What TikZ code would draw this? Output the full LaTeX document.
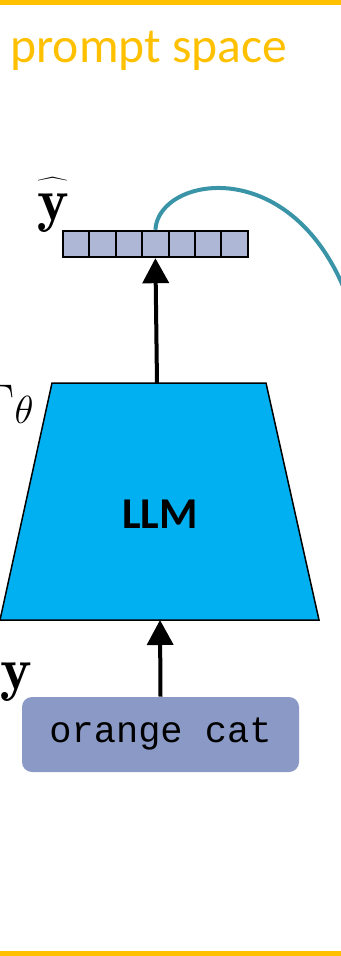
\RequirePackage{fix-cm}
\documentclass[tikz,border=0pt]{standalone}
\usepackage{fontspec}
\newfontfamily\calibri{Carlito}
\newfontfamily\courier{Liberation Mono}
\usetikzlibrary{arrows.meta}
\definecolor{promptyellow}{HTML}{FFC000}
\definecolor{llmblue}{HTML}{00B0F0}
\definecolor{cellblue}{HTML}{AEB8D6}
\definecolor{inputblue}{HTML}{8A99C6}
\definecolor{loopteal}{RGB}{58,148,168}
\begin{document}
\begin{tikzpicture}[x=0.5pt,y=-0.5pt,>={Triangle[width=13pt,length=12.5pt]},
		cell/.style={draw,line width=1pt,fill=cellblue,minimum size=13.2pt,inner sep=0pt},
		flow/.style={->,line width=2pt}]
			\clip (0,0) rectangle (341,956);
			\fill[promptyellow] (0,0) rectangle (341,5);
			\fill[promptyellow] (0,951) rectangle (341,956);
			\node[anchor=base west,inner sep=0pt,text=promptyellow,font=\calibri\fontsize{24.8}{30}\selectfont] (title) at (10,63) {prompt space};
			\fill[llmblue,draw=black,line width=0.75pt] (52,383) -- (266,383) -- (319,620) -- (0,620) -- cycle;
			\coordinate (llmtop) at (157,383);
			\coordinate (llmbot) at (160,620);
			\node[font=\calibri\bfseries\fontsize{22}{26}\selectfont] (llm) at (160,514) {LLM};
			\node[anchor=base east,inner sep=0pt,font=\fontsize{28}{33}\selectfont] (gamma) at (34,423) {$\Gamma{\scriptstyle\theta}$};
			\foreach \i in {0,...,6}
			\node[cell] (c\i) at ({76.2+26.4*\i},244) {};
			\node[anchor=base,inner sep=0pt,font=\fontsize{30}{36}\selectfont] (yhat) at (53,221) {$\widehat{\mkern8mu\mathbf{y}\mkern8mu\vphantom{\mathrm{t}}}$};
			\node[anchor=base,inner sep=0pt,font=\fontsize{30}{36}\selectfont] (y) at (16,689) {$\mathbf{y}$};
			\node[rounded corners=5pt,fill=inputblue,minimum width=138.5pt,minimum height=37.5pt,font=\courier\fontsize{18.5}{22}\selectfont] (input) at (160.5,734.5) {orange cat};
			\draw[flow] (input.north) -- (llmbot);
			\draw[flow] (llmtop) -- (c3.south);
			\coordinate (loopend) at (352,310);
			\draw[loopteal,line width=2pt] (c3.north) .. controls (158,175) and (300,150) .. (loopend);
		\end{tikzpicture}
\end{document}
